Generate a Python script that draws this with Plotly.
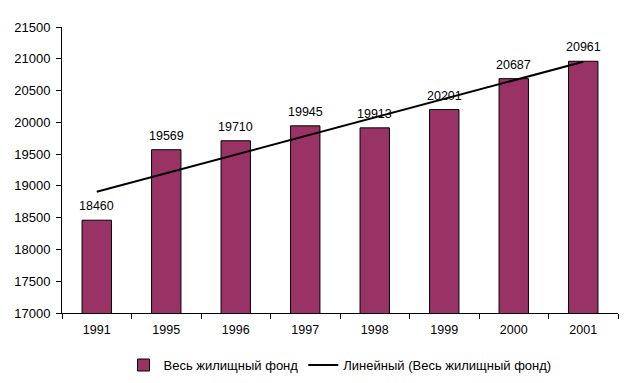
import numpy as np
import plotly.graph_objects as go

years = ["1991", "1995", "1996", "1997", "1998", "1999", "2000", "2001"]
values = [18460, 19569, 19710, 19945, 19913, 20201, 20687, 20961]
y_ticks = [17000, 17500, 18000, 18500, 19000, 19500, 20000, 20500, 21000, 21500]

bar_name = "Весь жилищный фонд"
trend_name = "Линейный (Весь жилищный фонд)"

# linear trendline (least squares over category index, as Excel does)
idx = np.arange(1, len(values) + 1)
slope, intercept = np.polyfit(idx, values, 1)
trend = slope * idx + intercept

FAM = "Liberation Sans, Arial, sans-serif"
font_y = dict(family=FAM, size=13, color="black")
font_x = dict(family=FAM, size=12.5, color="black")
font_lbl = dict(family=FAM, size=12.5, color="black")
font_leg = dict(family=FAM, size=13, color="black")

fig = go.Figure()
fig.add_trace(go.Bar(
    x=years, y=values, name=bar_name,
    marker=dict(color="#993366", line=dict(color="black", width=1)),
))
fig.add_trace(go.Scatter(
    x=years, y=trend, name=trend_name, mode="lines",
    line=dict(color="black", width=2),
))

# data labels; x given as category index
for i, v in enumerate(values):
    fig.add_annotation(x=i, y=v, xref="x", yref="y", text=str(v), showarrow=False,
                       yanchor="bottom", yshift=5, font=font_lbl)

# page body has an 8px margin, so the figure is sized/margined to compensate
fig.update_layout(
    width=626, height=375,
    margin=dict(l=54, r=16, t=19, b=70, autoexpand=False),
    plot_bgcolor="white", paper_bgcolor="white",
    font=font_x,
    bargap=0.577,
    showlegend=True,
    legend=dict(orientation="h", x=0.5, xanchor="center", y=-0.182, yanchor="middle",
                font=font_leg, itemwidth=30, tracegroupgap=0),
)
fig.update_xaxes(
    type="category", categoryorder="array", categoryarray=years,
    range=[-0.5, len(years) - 0.5], automargin=False,
    showline=True, linecolor="black", linewidth=1,
    ticks="outside", tickson="boundaries", ticklen=5, tickcolor="black",
    showgrid=False, tickfont=font_x, ticklabelstandoff=5,
)
fig.update_yaxes(
    range=[17000, 21500], tickvals=y_ticks, ticktext=[str(t) for t in y_ticks],
    automargin=False,
    showline=True, linecolor="black", linewidth=1,
    ticks="outside", ticklen=5, tickcolor="black",
    showgrid=False, zeroline=False, tickfont=font_y, ticklabelstandoff=3,
)

fig.write_html("out.html")
